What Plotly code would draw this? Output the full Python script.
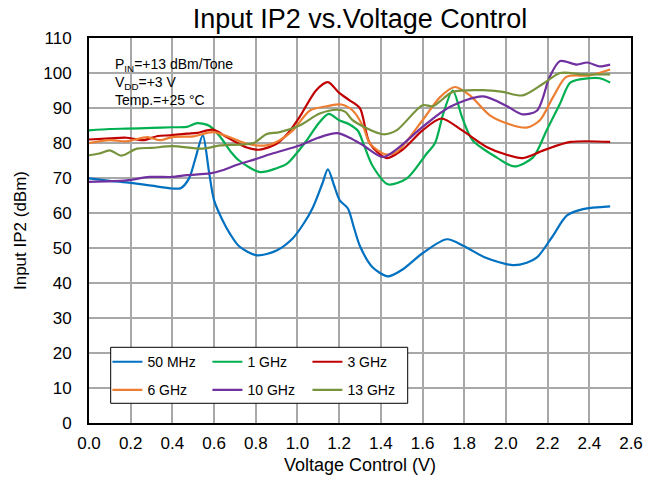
import plotly.graph_objects as go

# ---------------- data ----------------
series_names = ["50 MHz", "1 GHz", "3 GHz", "6 GHz", "10 GHz", "13 GHz"]
series_colors = ["#0070C0", "#00B050", "#C00000", "#ED7D31", "#7030A0", "#77933C"]

x_50mhz = [0.00, 0.10, 0.20, 0.30, 0.40, 0.44, 0.48, 0.51, 0.546, 0.575, 0.60, 0.64, 0.675, 0.72, 0.805,
           0.90, 0.978, 1.03, 1.074, 1.12, 1.146, 1.175, 1.203, 1.242, 1.27, 1.30, 1.36, 1.434, 1.50,
           1.60, 1.717, 1.80, 1.90, 2.034, 2.10, 2.149, 2.22, 2.293, 2.37, 2.50]
y_50mhz = [69.9, 69.2, 68.6, 67.8, 67.0, 67.1, 69.9, 75.5, 82.2, 72.0, 63.6, 58.0, 54.2, 50.5, 47.9,
           49.3, 52.8, 57.0, 61.6, 68.5, 72.5, 68.0, 63.6, 61.3, 56.0, 50.5, 44.5, 41.9, 43.7,
           48.5, 52.5, 50.5, 47.3, 45.1, 45.8, 47.3, 53.0, 59.3, 61.1, 61.9]

x_1ghz = [0.00, 0.10, 0.18, 0.30, 0.40, 0.47, 0.52, 0.58, 0.63, 0.68, 0.72, 0.82, 0.90, 0.95, 1.045,
          1.10, 1.15, 1.20, 1.25, 1.29, 1.316, 1.36, 1.434, 1.525, 1.62, 1.66, 1.70, 1.745, 1.79,
          1.84, 1.955, 2.04, 2.13, 2.195, 2.26, 2.31, 2.40, 2.45, 2.50]
y_1ghz = [83.6, 84.0, 84.1, 84.3, 84.5, 84.6, 85.7, 84.8, 81.7, 77.5, 75.0, 71.7, 72.8, 74.1, 80.8,
          85.5, 88.3, 86.5, 85.3, 83.5, 79.9, 73.5, 68.2, 69.9, 77.0, 80.0, 88.5, 95.0, 87.3,
          80.8, 75.9, 73.3, 75.9, 83.6, 91.3, 97.3, 98.5, 98.5, 97.3]

x_3ghz = [0.00, 0.10, 0.18, 0.26, 0.33, 0.39, 0.47, 0.52, 0.595, 0.66, 0.757, 0.82, 0.90, 0.95, 1.01,
          1.09, 1.146, 1.20, 1.25, 1.30, 1.347, 1.428, 1.506, 1.60, 1.69, 1.79, 1.91, 2.00, 2.08,
          2.18, 2.31, 2.50]
y_3ghz = [81.0, 81.3, 81.5, 80.8, 82.0, 82.2, 82.7, 82.9, 83.8, 81.7, 78.7, 78.1, 79.8, 82.5, 87.4,
          95.1, 97.4, 94.3, 92.2, 89.9, 79.9, 75.7, 78.2, 83.6, 87.0, 83.6, 78.8, 76.7, 75.7,
          77.9, 80.3, 80.3]

x_6ghz = [0.00, 0.10, 0.18, 0.28, 0.34, 0.40, 0.50, 0.595, 0.69, 0.757, 0.85, 0.915, 0.978, 1.06,
          1.14, 1.21, 1.265, 1.316, 1.347, 1.42, 1.475, 1.60, 1.684, 1.755, 1.827, 1.923, 2.02,
          2.10, 2.163, 2.226, 2.29, 2.40, 2.50]
y_6ghz = [80.0, 80.8, 80.5, 81.7, 80.8, 81.7, 81.9, 83.1, 81.3, 79.8, 79.3, 80.8, 83.6, 89.3,
          90.5, 91.0, 89.3, 84.6, 79.9, 76.8, 77.4, 86.5, 93.1, 96.0, 93.6, 87.9, 85.3,
          84.4, 86.5, 93.1, 98.9, 99.3, 101.0]

x_10ghz = [0.00, 0.18, 0.29, 0.40, 0.47, 0.58, 0.64, 0.71, 0.805, 0.88, 1.01, 1.10, 1.19, 1.25,
           1.316, 1.41, 1.49, 1.60, 1.73, 1.89, 2.005, 2.08, 2.15, 2.21, 2.26, 2.34, 2.39, 2.45, 2.50]
y_10ghz = [68.9, 69.3, 70.3, 70.3, 70.8, 71.3, 72.2, 73.8, 75.5, 77.0, 79.3, 81.5, 82.8, 81.5,
           79.3, 76.0, 78.9, 84.6, 90.3, 93.3, 90.5, 88.2, 89.3, 98.9, 103.4, 102.4, 103.0, 101.9, 102.4]

x_13ghz = [0.00, 0.05, 0.10, 0.156, 0.23, 0.30, 0.40, 0.546, 0.63, 0.79, 0.85, 0.915, 1.01, 1.107,
           1.19, 1.23, 1.265, 1.41, 1.475, 1.60, 1.65, 1.745, 1.89, 1.985, 2.08, 2.18, 2.26, 2.37, 2.50]
y_13ghz = [76.5, 77.0, 77.9, 76.4, 78.4, 78.6, 79.1, 78.4, 79.3, 80.0, 82.5, 83.1, 85.0, 88.4,
           89.5, 88.9, 86.5, 82.5, 83.6, 90.8, 90.5, 94.6, 95.1, 94.6, 93.6, 97.0, 100.0, 99.6, 99.6]

x_ticks = [0.0, 0.2, 0.4, 0.6, 0.8, 1.0, 1.2, 1.4, 1.6, 1.8, 2.0, 2.2, 2.4, 2.6]
y_ticks = [0, 10, 20, 30, 40, 50, 60, 70, 80, 90, 100, 110]

title_text = "Input IP2 vs.Voltage Control"
x_title = "Voltage Control (V)"
y_title = "Input IP2 (dBm)"
note_text = "P<sub>IN</sub>=+13 dBm/Tone<br>V<sub>DD</sub>=+3 V<br>Temp.=+25 °C"

xs = [x_50mhz, x_1ghz, x_3ghz, x_6ghz, x_10ghz, x_13ghz]
ys = [y_50mhz, y_1ghz, y_3ghz, y_6ghz, y_10ghz, y_13ghz]

FONT = "Liberation Sans, Arial, sans-serif"

fig = go.Figure()
for i, (name, color, xv, yv) in enumerate(zip(series_names, series_colors, xs, ys)):
    fig.add_trace(go.Scatter(
        x=xv, y=yv, name=name, mode="lines",
        line=dict(color=color, width=2.2, shape="spline", smoothing=0.8),
        legend="legend" if i < 3 else "legend2",
    ))

legend_common = dict(
    orientation="h", xanchor="left", yanchor="middle",
    entrywidth=55, entrywidthmode="pixels",
    bgcolor="rgba(0,0,0,0)", borderwidth=0,
    font=dict(family=FONT, size=14, color="#000000"),
    itemwidth=30, traceorder="normal",
)

fig.update_layout(
    width=657, height=480,
    margin=dict(l=89, r=26, t=38, b=57, autoexpand=False),
    paper_bgcolor="white", plot_bgcolor="white",
    font=dict(family=FONT, color="#000000"),
    title=dict(text=title_text, x=0.5, xref="paper", y=1 - 19 / 480, yref="container",
               xanchor="center", yanchor="middle", font=dict(size=27, family=FONT, color="#000000")),
    legend=dict(x=0.034, y=0.158, **legend_common),
    legend2=dict(x=0.034, y=0.085, **legend_common),
    xaxis=dict(range=[0, 2.6], tickvals=x_ticks, tickformat=".1f",
               showgrid=True, gridcolor="#A8A8A8", gridwidth=1.5,
               showline=True, linecolor="#000000", linewidth=2, mirror=True,
               ticks="", zeroline=False, ticklabelstandoff=4,
               tickfont=dict(size=17, family=FONT),
               title=dict(text=x_title, font=dict(size=18, family=FONT), standoff=6)),
    yaxis=dict(range=[0, 110], tickvals=y_ticks,
               showgrid=True, gridcolor="#A8A8A8", gridwidth=1.5,
               showline=True, linecolor="#000000", linewidth=2, mirror=True,
               ticks="", zeroline=False, ticklabelstandoff=12,
               tickfont=dict(size=17, family=FONT),
               title=dict(text=y_title, font=dict(size=17, family=FONT), standoff=12)),
    shapes=[dict(type="rect", xref="paper", yref="paper",
                 x0=0.040, x1=0.588, y0=0.0512, y1=0.1966,
                 fillcolor="white", line=dict(color="#000000", width=1), layer="above")],
    annotations=[dict(text=note_text, xref="paper", yref="paper", x=0.044, y=0.958,
                      xanchor="left", yanchor="top", align="left", showarrow=False,
                      font=dict(size=14, family=FONT, color="#000000"))],
)

fig.write_html("out.html", config={"displayModeBar": False},
               post_script="document.body.style.margin='0';")
